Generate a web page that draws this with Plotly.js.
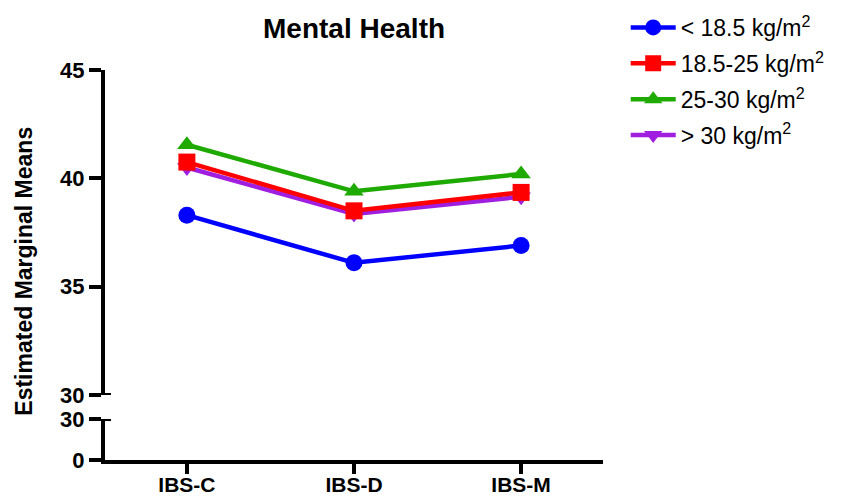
<!DOCTYPE html>
<html>
<head>
<meta charset="utf-8">
<script src="https://cdn.plot.ly/plotly-3.0.1.min.js"></script>
<style>html,body{margin:0;padding:0;background:#fff;}#chart{width:841px;height:497px;}</style>
</head>
<body>
<div id="chart"></div>
<script>
const categories = ["IBS-C", "IBS-D", "IBS-M"];
const seriesNames = ["&lt; 18.5 kg/m<sup>2</sup>", "18.5-25 kg/m<sup>2</sup>", "25-30 kg/m<sup>2</sup>", "&gt; 30 kg/m<sup>2</sup>"];
const under185 = [38.3, 36.1, 36.9];
const normal185to25 = [40.75, 38.5, 39.35];
const over25to30 = [41.55, 39.4, 40.2];
const over30 = [40.5, 38.35, 39.15];
const topTicks = [30, 35, 40, 45];
const bottomTicks = [0, 30];

const FONT = "Liberation Sans, Arial, sans-serif";

function tr(name, y, color, symbol, rank, size) {
  return {
    type: "scatter", mode: "lines+markers", name: name, x: categories, y: y,
    xaxis: "x", yaxis: "y", legendrank: rank, legendgroup: "g" + rank,
    line: {color: color, width: 4.5},
    marker: {color: color, symbol: symbol, size: size}
  };
}

const data = [
  tr(seriesNames[0], under185, "#0000FF", "circle", 1, 17),
  tr(seriesNames[3], over30, "#A01EE0", "triangle-down", 4, 17),
  tr(seriesNames[1], normal185to25, "#FF0000", "square", 2, 17),
  tr(seriesNames[2], over25to30, "#1EAA00", "triangle-up", 3, 17)
];

const tickFont = {size: 22, family: FONT, weight: "bold", color: "#000"};

const layout = {
  width: 841, height: 497,
  margin: {l: 105, r: 238, t: 70, b: 37, autoexpand: false},
  paper_bgcolor: "#fff", plot_bgcolor: "#fff",
  font: {family: FONT, color: "#000"},
  title: {text: "<b>Mental Health</b>", font: {size: 28, family: FONT, color: "#000"}, x: 0.421, xanchor: "center", y: 0.944, yanchor: "middle"},
  showlegend: true,
  legend: {xref: "container", yref: "container", x: 0.744, y: 0.988, xanchor: "left", yanchor: "top", font: {size: 23, family: FONT}, bgcolor: "rgba(0,0,0,0)", itemwidth: 45, tracegroupgap: 3},
  xaxis: {
    type: "category", range: [-0.49, 2.49], anchor: "y2",
    showline: true, linewidth: 4, linecolor: "#000",
    ticks: "outside", ticklen: 10, tickwidth: 4, tickcolor: "#000",
    ticklabelstandoff: -7,
    showgrid: false, zeroline: false,
    tickfont: {size: 21, family: FONT, weight: "bold", color: "#000"}
  },
  yaxis: {
    domain: [0.1667, 1], range: [30, 45], anchor: "x",
    tickvals: topTicks, ticktext: topTicks.map(String),
    showline: true, linewidth: 4, linecolor: "#000",
    ticks: "outside", ticklen: 12, tickwidth: 4, tickcolor: "#000",
    showgrid: false, zeroline: false,
    tickfont: tickFont
  },
  yaxis2: {
    domain: [0, 0.105], range: [0, 30], anchor: "x",
    tickvals: bottomTicks, ticktext: bottomTicks.map(String),
    showline: true, linewidth: 4, linecolor: "#000",
    ticks: "outside", ticklen: 12, tickwidth: 4, tickcolor: "#000",
    showgrid: false, zeroline: false,
    tickfont: tickFont
  },
  shapes: [
    {type: "line", xref: "paper", yref: "y", x0: 0, x1: 0.012, y0: 30, y1: 30, line: {color: "#000", width: 4}},
    {type: "line", xref: "paper", yref: "y2", x0: 0, x1: 0.012, y0: 30, y1: 30, line: {color: "#000", width: 4}}
  ],
  annotations: [
    {text: "<b>Estimated Marginal Means</b>", textangle: -90, xref: "paper", yref: "paper",
     x: -0.163, y: 0.485, xanchor: "center", yanchor: "middle", showarrow: false,
     font: {size: 23, family: FONT, color: "#000"}}
  ]
};

Plotly.newPlot("chart", data, layout, {displayModeBar: false, staticPlot: true});
</script>
</body>
</html>
